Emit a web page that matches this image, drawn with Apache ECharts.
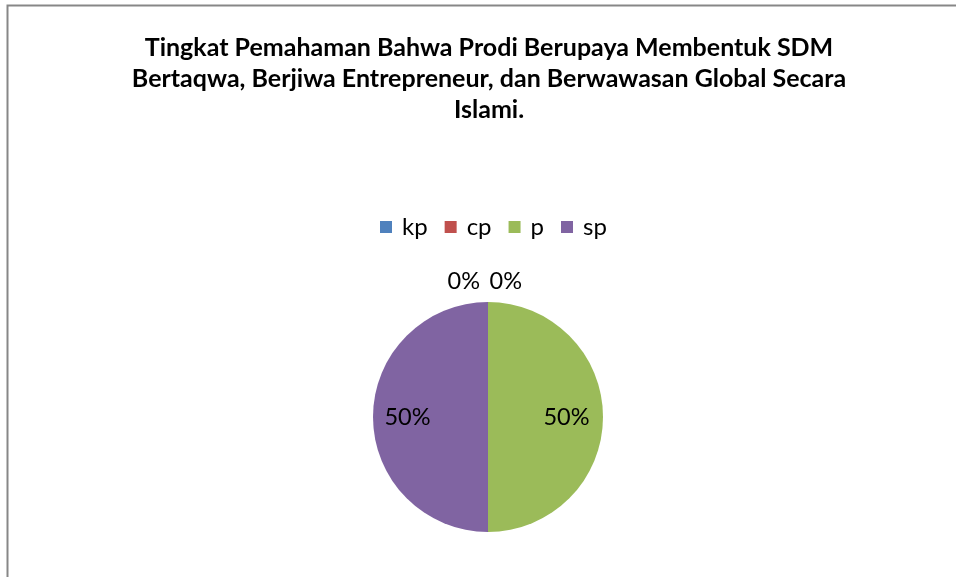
<!DOCTYPE html>
<html>
<head>
<meta charset="utf-8">
<script src="https://cdn.jsdelivr.net/npm/echarts@6/dist/echarts.min.js"></script>
<style>
  html, body { margin: 0; padding: 0; background: #fff; }
  #chart { width: 956px; height: 577px; }
</style>
</head>
<body>
<div id="chart"></div>
<script>
// data
const categories = ['kp', 'cp', 'p', 'sp'];
const values = [0, 0, 50, 50];
const colors = ['#4F81BD', '#C0504D', '#9BBB59', '#8064A2'];
const titleText = 'Tingkat Pemahaman Bahwa Prodi Berupaya Membentuk SDM\nBertaqwa, Berjiwa Entrepreneur, dan Berwawasan Global Secara\nIslami.';

const font = 'Lato, "Open Sans", sans-serif';
const myChart = echarts.init(document.getElementById('chart'));

// nudge labels like Excel: zero slices side by side above, halves further out
const labelShift = [[-8, -17], [34, -17], [18, 0], [-20, 0]];

const option = {
  backgroundColor: '#fff',
  animation: false,
  graphic: [{
    type: 'rect',
    shape: { x: 7.5, y: 5.5, width: 1000, height: 700 },
    style: { fill: 'none', stroke: '#878787', lineWidth: 2 },
    silent: true
  }],
  title: {
    text: titleText,
    left: 484,
    top: 27,
    textAlign: 'center',
    textStyle: { fontFamily: font, fontWeight: 'bold', fontSize: 25, lineHeight: 31, color: '#000' }
  },
  legend: {
    data: categories,
    top: 210,
    left: 375,
    icon: 'rect',
    itemWidth: 12,
    itemHeight: 12,
    itemGap: 17,
    textStyle: { fontFamily: font, fontSize: 24, color: '#000', padding: [0, 0, 0, 5] }
  },
  series: [{
    type: 'pie',
    center: [488, 417],
    radius: 115,
    startAngle: 90,
    clockwise: true,
    avoidLabelOverlap: false,
    stillShowZeroSum: true,
    itemStyle: { borderWidth: 0 },
    label: {
      fontFamily: font, fontSize: 23.5, color: '#000',
      formatter: '{d}%'
    },
    labelLine: { show: false },
    labelLayout: (params) => {
      const s = labelShift[params.dataIndex];
      return { dx: s[0], dy: s[1] };
    },
    data: categories.map((name, i) => ({
      name: name,
      value: values[i],
      itemStyle: { color: colors[i] },
      label: values[i] === 0
        ? { position: 'outside', distanceToLabelLine: 0 }
        : { position: 'inside' },
      labelLine: { show: false, length: 4, length2: 0 }
    }))
  }]
};
myChart.setOption(option);
</script>
</body>
</html>
